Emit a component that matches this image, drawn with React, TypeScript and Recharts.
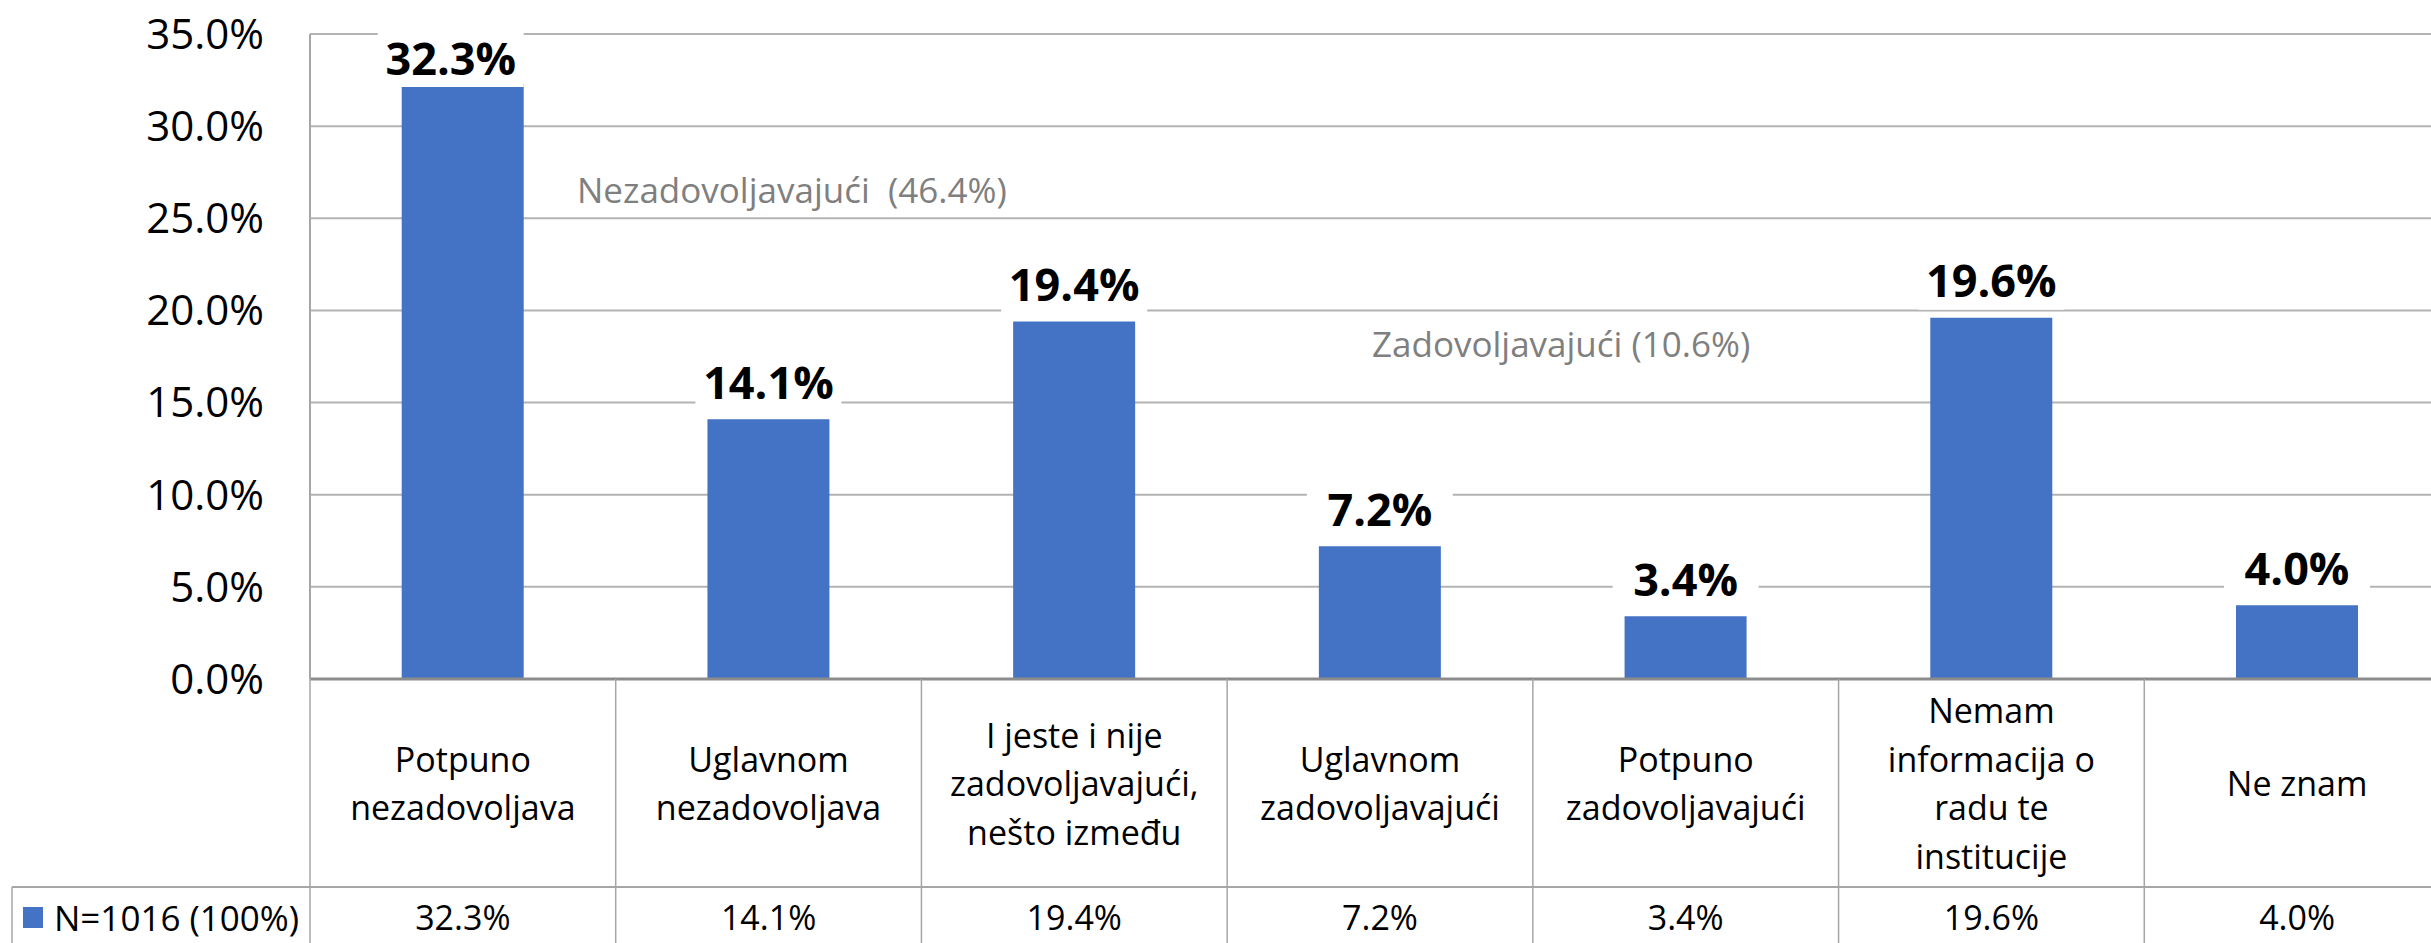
import { Bar, BarChart, CartesianGrid, Customized, LabelList, XAxis, YAxis } from "recharts"

const categories = [
  "Potpuno\nnezadovoljava",
  "Uglavnom\nnezadovoljava",
  "I jeste i nije\nzadovoljavajući,\nnešto između",
  "Uglavnom\nzadovoljavajući",
  "Potpuno\nzadovoljavajući",
  "Nemam\ninformacija o\nradu te\ninstitucije",
  "Ne znam",
]
const values = [32.3, 14.1, 19.4, 7.2, 3.4, 19.6, 4.0]
const seriesName = "N=1016 (100%)"
const yTicks = [0, 5, 10, 15, 20, 25, 30, 35]
const groupNotes = [
  { text: "Nezadovoljavajući  (46.4%)", x: 577, y: 189 },
  { text: "Zadovoljavajući (10.6%)", x: 1372, y: 343 },
]

const data = categories.map((name, i) => ({ name, value: values[i] }))

// layout
const W = 2452
const H = 943
const PLOT_LEFT = 310
const PLOT_TOP = 34
const AXIS_H = 264
const PLOT_BOTTOM = H - AXIS_H
const ROW_SPLIT = 887
const CAT_W = (W - 2 - PLOT_LEFT) / categories.length
const FONT = "'Open Sans', sans-serif"
const BLUE = "#4472C4"
const LINE = "#a6a6a6"

const fmt = (v: number) => `${v.toFixed(1)}%`

const TableTick = (props: any) => {
  const { x, payload } = props
  const i = payload.index
  const lines = String(payload.value).split("\n")
  const lh = 48.5
  const rowMid = (PLOT_BOTTOM + ROW_SPLIT) / 2
  const startY = rowMid - ((lines.length - 1) * lh) / 2
  const left = x - CAT_W / 2
  return (
    <g>
      <line x1={left} x2={left} y1={PLOT_BOTTOM} y2={H} stroke={LINE} strokeWidth={1.5} />
      {i === categories.length - 1 && (
        <line x1={x + CAT_W / 2} x2={x + CAT_W / 2} y1={PLOT_BOTTOM} y2={H} stroke={LINE} strokeWidth={1.5} />
      )}
      {i === 0 && (
        <g>
          <line x1={12} x2={W} y1={ROW_SPLIT} y2={ROW_SPLIT} stroke={LINE} strokeWidth={2} />
          <line x1={12} x2={12} y1={ROW_SPLIT} y2={H} stroke={LINE} strokeWidth={1.5} />
          <rect x={23} y={907} width={20} height={21} fill={BLUE} />
          <text x={54} y={(ROW_SPLIT + H) / 2 + 2} fontSize={35} fontFamily={FONT} fill="#000" dominantBaseline="central">
            {seriesName}
          </text>
        </g>
      )}
      {lines.map((ln, k) => (
        <text
          key={k}
          x={x}
          y={startY + k * lh}
          textAnchor="middle"
          dominantBaseline="central"
          fontSize={34}
          fontFamily={FONT}
          fill="#000"
        >
          {ln}
        </text>
      ))}
      <text
        x={x}
        y={(ROW_SPLIT + H) / 2 + 2}
        textAnchor="middle"
        dominantBaseline="central"
        fontSize={34}
        fontFamily={FONT}
        fill="#000"
      >
        {fmt(values[i])}
      </text>
    </g>
  )
}

const ValueLabel = (props: any) => {
  const x = Number(props.x)
  const y = Number(props.y)
  const width = Number(props.width)
  const cx = x + width / 2 - (props.index === 0 ? 12 : 0)
  const cy = Math.max(y - 38, PLOT_TOP + 23)
  return (
    <g>
      <rect x={cx - 73} y={cy - 30} width={146} height={60} fill="#fff" />
      <text
        x={cx}
        y={cy}
        textAnchor="middle"
        dominantBaseline="central"
        fontSize={45}
        fontWeight={700}
        fontFamily={FONT}
        fill="#000"
      >
        {fmt(Number(props.value))}
      </text>
    </g>
  )
}

const Notes = () => (
  <g>
    {groupNotes.map((n) => (
      <text
        key={n.text}
        x={n.x}
        y={n.y}
        dominantBaseline="central"
        fontSize={35}
        fontFamily={FONT}
        fill="#7f7f7f"
        style={{ whiteSpace: "pre" }}
      >
        {n.text}
      </text>
    ))}
  </g>
)

export default function App() {
  return (
    <div style={{ width: W, height: H, background: "#fff" }}>
      <style>{`html,body{margin:0;overflow:hidden;background:#fff}`}</style>
      <BarChart
        width={W}
        height={H}
        data={data}
        margin={{ top: PLOT_TOP, right: 2, left: 0, bottom: 0 }}
        barCategoryGap="30%"
      >
        <CartesianGrid vertical={false} stroke="#b3b3b3" strokeWidth={2} />
        <XAxis
          dataKey="name"
          height={AXIS_H}
          interval={0}
          tickLine={false}
          axisLine={{ stroke: "#8c8c8c", strokeWidth: 3 }}
          tick={<TableTick />}
        />
        <YAxis
          width={PLOT_LEFT}
          domain={[0, 35]}
          ticks={yTicks}
          tickFormatter={fmt}
          tickLine={false}
          tickSize={6}
          tickMargin={40}
          axisLine={{ stroke: LINE, strokeWidth: 2 }}
          tick={{ fontSize: 42, fill: "#000", fontFamily: FONT }}
        />
        <Bar dataKey="value" fill={BLUE} isAnimationActive={false}>
          <LabelList dataKey="value" content={<ValueLabel />} />
        </Bar>
        <Customized component={<Notes />} />
      </BarChart>
    </div>
  )
}
